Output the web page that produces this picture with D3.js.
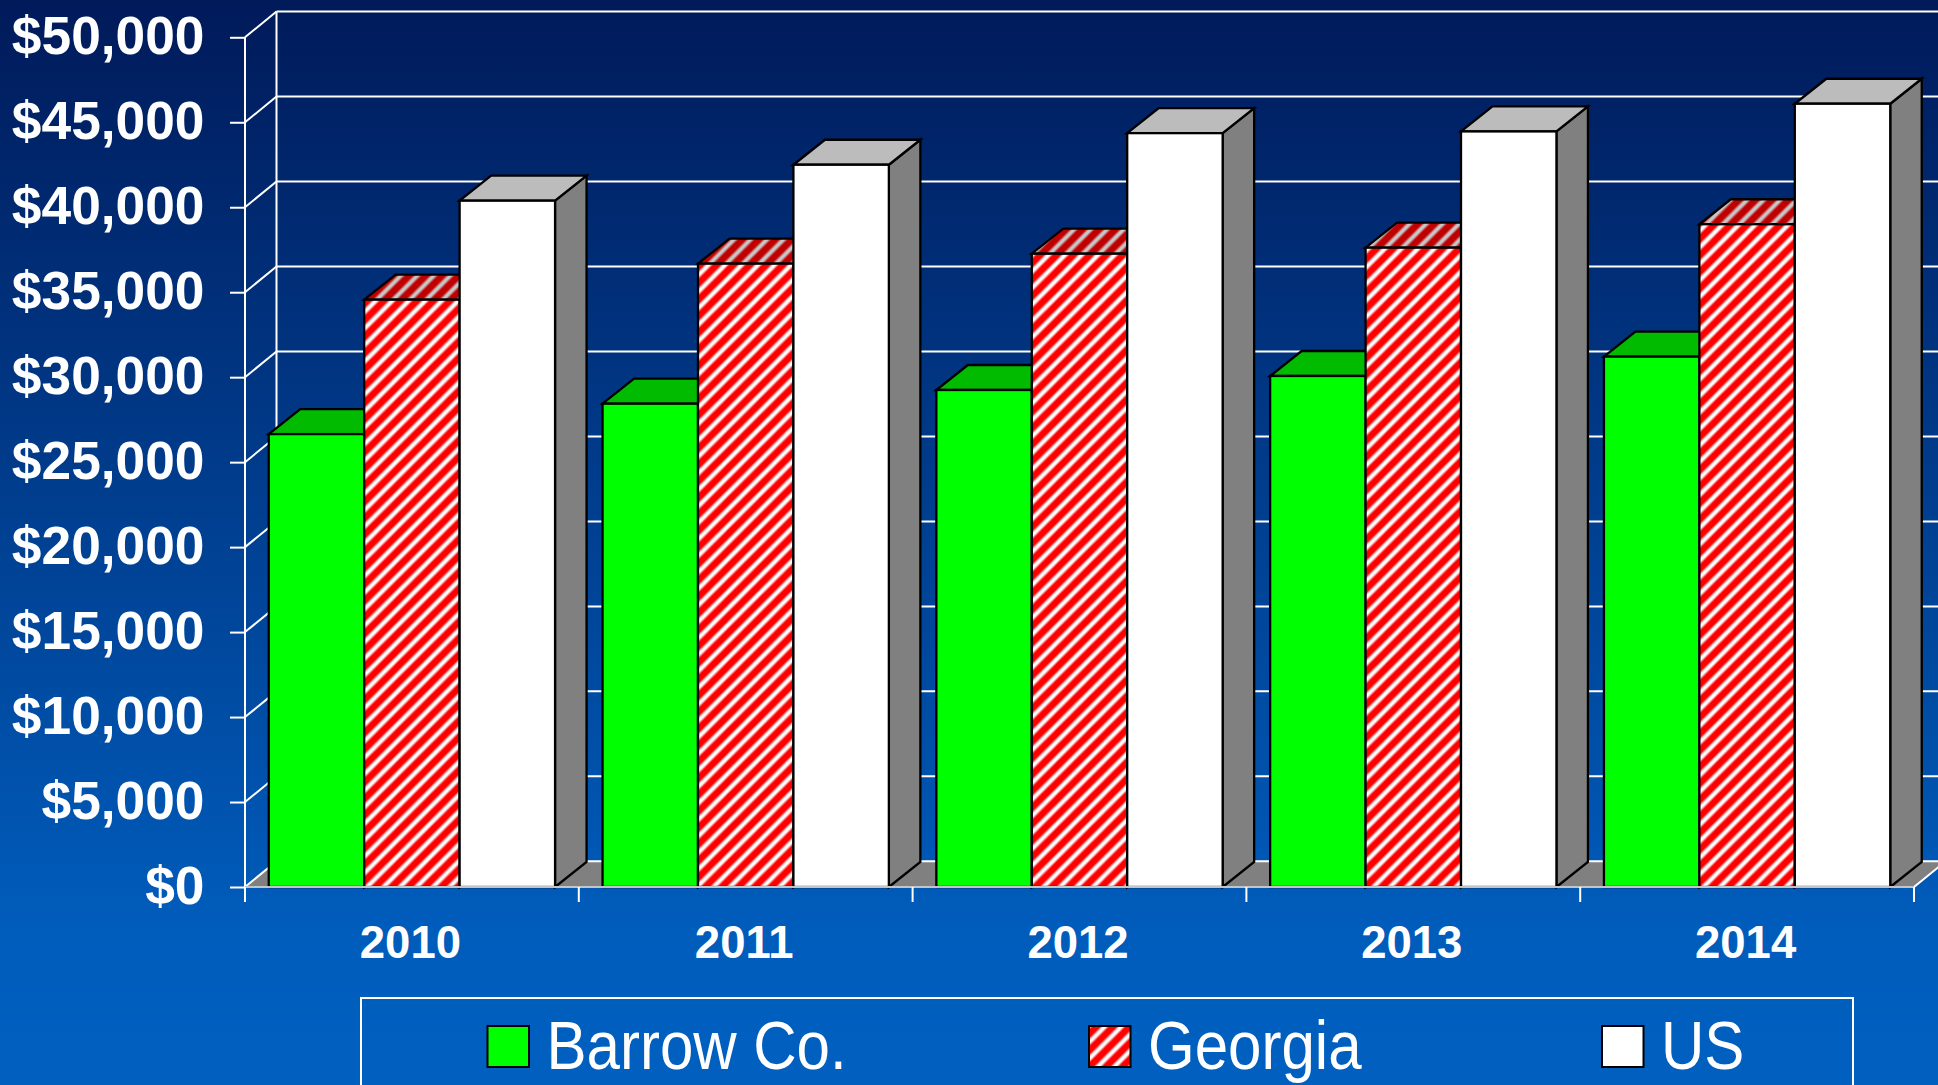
<!DOCTYPE html>
<html>
<head>
<meta charset="utf-8">
<script src="https://cdn.jsdelivr.net/npm/d3@7/dist/d3.min.js"></script>
<style>
html, body { margin: 0; padding: 0; background: #005cbd; overflow: hidden; }
svg { display: block; }
text { fill: #fff; }
.tick text, .label { font-family: "Liberation Sans", Arial, sans-serif; font-weight: bold; }
.legendtext { font-family: "Liberation Sans", Arial, sans-serif; font-size: 69px; }
.wall { stroke: #fff; stroke-width: 2; fill: none; }
</style>
</head>
<body>
<div id="chart"></div>
<script>
var years = ["2010", "2011", "2012", "2013", "2014"];
var series = ["Barrow Co.", "Georgia", "US"];
var barrow = [26650, 28440, 29245, 30070, 31210];
var georgia = [34560, 36680, 37265, 37620, 39000];
var us = [40385, 42500, 44360, 44460, 46090];
var yTicks = [0, 5000, 10000, 15000, 20000, 25000, 30000, 35000, 40000, 45000, 50000];

var width = 1938,
    height = 1085;

// Depth of the 3D box, front to back. Bars are a touch shallower than the walls.
var depthX = 31.5,
    depthY = -25.7,
    barDepthY = -25;

var x = d3.scaleBand()
    .domain(years)
    .range([245, 1914])
    .paddingInner(0.1423)
    .paddingOuter(0.0712);

var xEdge = d3.scaleLinear()
    .domain([0, years.length])
    .range([245, 1914]);

var xInner = d3.scaleBand()
    .domain(series)
    .range([0, x.bandwidth()]);

var y = d3.scaleLinear()
    .domain([0, 50000])
    .range([887, 37.3]);

var svg = d3.select("#chart").append("svg")
    .attr("width", width)
    .attr("height", height);

var defs = svg.append("defs");

var bg = defs.append("linearGradient")
    .attr("id", "bg")
    .attr("x1", 0).attr("y1", 0)
    .attr("x2", 0).attr("y2", 1);
bg.append("stop").attr("offset", "0%").attr("stop-color", "#001a5a");
bg.append("stop").attr("offset", "85%").attr("stop-color", "#005cbb");
bg.append("stop").attr("offset", "100%").attr("stop-color", "#0060c0");

function stripes(id, base, stripe, soft) {
    var t = 16.5;
    var d = "M-2,2L2,-2M-2," + (t + 2) + "L" + (t + 2) + ",-2M" + (t - 2) + "," + (t + 2) + "L" + (t + 2) + "," + (t - 2);
    var p = defs.append("pattern")
        .attr("id", id)
        .attr("patternUnits", "userSpaceOnUse")
        .attr("width", t)
        .attr("height", t);
    p.append("rect").attr("width", t).attr("height", t).attr("fill", base);
    p.append("path")
        .attr("d", d)
        .attr("stroke", soft)
        .attr("stroke-width", 5.5);
    p.append("path")
        .attr("d", d)
        .attr("stroke", stripe)
        .attr("stroke-width", 3);
}
stripes("hatch", "#ff0000", "#ffffff", "#ff8c8c");
stripes("hatchTop", "#c00000", "#c8c8c8", "#c46060");

var faces = {
    "Barrow Co.": { front: "#00ff00", top: "#00bb00", side: "#00a000" },
    "Georgia": { front: "url(#hatch)", top: "url(#hatchTop)", side: "#808080" },
    "US": { front: "#ffffff", top: "#bcbcbc", side: "#808080" }
};

svg.append("rect")
    .attr("width", width)
    .attr("height", height)
    .attr("fill", "url(#bg)");

// Floor
var floor = d3.path();
floor.moveTo(xEdge(0), y(0));
floor.lineTo(xEdge(0) + depthX, y(0) + depthY);
floor.lineTo(xEdge(years.length) + depthX, y(0) + depthY);
floor.lineTo(xEdge(years.length), y(0));
floor.closePath();
svg.append("path").attr("d", floor.toString()).attr("fill", "#808080");

// Back wall gridlines and the slanted lines on the left wall
svg.selectAll("line.grid")
    .data(yTicks)
  .enter().append("line")
    .attr("class", "grid wall")
    .attr("x1", xEdge(0) + depthX)
    .attr("x2", width)
    .attr("y1", function(d) { return y(d) + depthY; })
    .attr("y2", function(d) { return y(d) + depthY; });

svg.selectAll("line.slant")
    .data(yTicks)
  .enter().append("line")
    .attr("class", "slant wall")
    .attr("x1", xEdge(0))
    .attr("x2", xEdge(0) + depthX)
    .attr("y1", function(d) { return y(d); })
    .attr("y2", function(d) { return y(d) + depthY; });

svg.append("line")
    .attr("class", "wall")
    .attr("x1", xEdge(0) + depthX).attr("x2", xEdge(0) + depthX)
    .attr("y1", y(50000) + depthY).attr("y2", y(0) + depthY);

// right end of the floor, runs off the page
svg.append("line")
    .attr("class", "wall")
    .attr("x1", xEdge(years.length)).attr("x2", xEdge(years.length) + depthX)
    .attr("y1", y(0)).attr("y2", y(0) + depthY);

// Bars
function poly(pts) {
    return d3.line()(pts) + "Z";
}

var values = [barrow, georgia, us];

var group = svg.selectAll("g.year")
    .data(years)
  .enter().append("g")
    .attr("class", "year");

group.each(function(year, i) {
    var g = d3.select(this);
    series.forEach(function(name, s) {
        var v = values[s][i],
            x0 = x(year) + xInner(name),
            x1 = x0 + xInner.bandwidth(),
            y0 = y(0),
            y1 = y(v);

        g.append("path")
            .attr("d", poly([[x1, y0], [x1 + depthX, y0 + barDepthY], [x1 + depthX, y1 + barDepthY], [x1, y1]]))
            .attr("fill", faces[name].side)
            .attr("stroke", "#000")
            .attr("stroke-width", 2.3);
        g.append("path")
            .attr("d", poly([[x0, y1], [x0 + depthX, y1 + barDepthY], [x1 + depthX, y1 + barDepthY], [x1, y1]]))
            .attr("fill", faces[name].top)
            .attr("stroke", "#000")
            .attr("stroke-width", 2.3);
        g.append("rect")
            .attr("x", x0)
            .attr("y", y1)
            .attr("width", x1 - x0)
            .attr("height", y0 - y1)
            .attr("fill", faces[name].front)
            .attr("stroke", "#000")
            .attr("stroke-width", 2.3);
    });
});

// Axes
var yAxis = d3.axisLeft(y)
    .tickValues(yTicks)
    .tickSize(15)
    .tickPadding(25.5)
    .tickFormat(d3.format("$,"));
var yG = svg.append("g")
    .attr("transform", "translate(245,0)")
    .call(yAxis);
yG.select(".domain").remove();
yG.selectAll(".tick line").attr("stroke", "#fff").attr("stroke-width", 2);
yG.selectAll(".tick text").attr("font-size", 53.3).attr("dy", "0.3em").style("fill", "#fff");

svg.append("line")
    .attr("class", "wall")
    .attr("x1", 245).attr("x2", 245)
    .attr("y1", y(50000)).attr("y2", 902);

svg.append("line")
    .attr("x1", xEdge(0)).attr("x2", xEdge(years.length))
    .attr("y1", y(0)).attr("y2", y(0))
    .attr("stroke", "#c4c4c4")
    .attr("stroke-width", 2);

svg.selectAll("line.xtick")
    .data(d3.range(years.length + 1))
  .enter().append("line")
    .attr("class", "xtick wall")
    .attr("x1", xEdge).attr("x2", xEdge)
    .attr("y1", y(0)).attr("y2", 902);

var xAxis = d3.axisBottom(x)
    .tickSize(0)
    .tickPadding(0);
var xG = svg.append("g")
    .attr("transform", "translate(-1.5,958)")
    .call(xAxis);
xG.select(".domain").remove();
xG.selectAll(".tick text")
    .attr("font-size", 45.5)
    .attr("y", 0)
    .attr("dy", 0)
    .style("fill", "#fff");

// Legend
svg.append("rect")
    .attr("x", 361)
    .attr("y", 998)
    .attr("width", 1492)
    .attr("height", 120)
    .attr("fill", "none")
    .attr("stroke", "#fff")
    .attr("stroke-width", 2);

var legendX = d3.scaleOrdinal().domain(series).range([487.5, 1089, 1602]);

var legend = svg.selectAll("g.legend")
    .data(series)
  .enter().append("g")
    .attr("class", "legend")
    .attr("transform", function(d) { return "translate(" + legendX(d) + ",1026)"; });

legend.append("rect")
    .attr("width", 41.5)
    .attr("height", 41)
    .attr("fill", function(d) { return faces[d].front; })
    .attr("stroke", "#000")
    .attr("stroke-width", 2);

// no narrow face installed, squeeze the regular one
legend.append("text")
    .attr("class", "legendtext")
    .attr("transform", "translate(59,43) scale(0.87,1)")
    .text(function(d) { return d; });
</script>
</body>
</html>
